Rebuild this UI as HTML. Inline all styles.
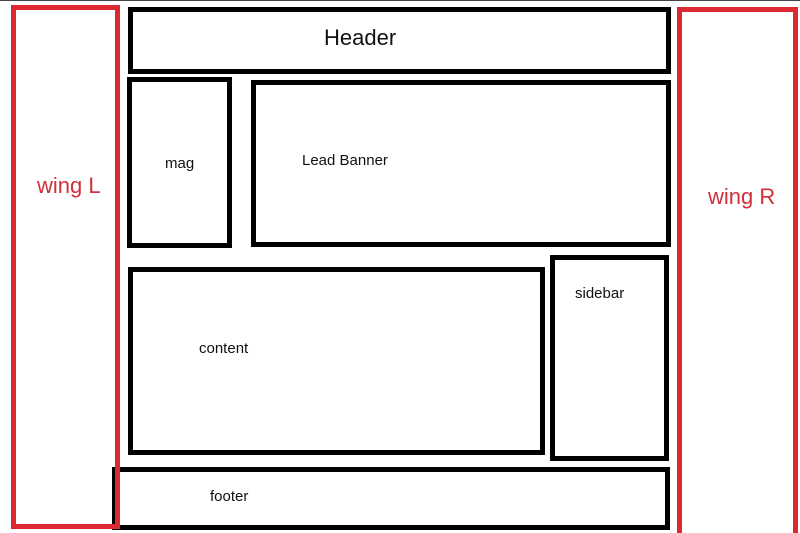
<!DOCTYPE html>
<html style="width:800px;height:533px;overflow:hidden"><head><style>
body{margin:0;width:800px;height:533px;background:#fff;position:relative;overflow:hidden;font-family:"Liberation Sans",sans-serif}
.b{position:absolute;box-sizing:border-box;border:5px solid #000}
.r{position:absolute;box-sizing:border-box;border:5px solid #dc2830}
.t{position:absolute;white-space:nowrap;color:#111;font-size:15px;line-height:15px}
.rt{position:absolute;white-space:nowrap;color:#d0303a;font-size:22px;line-height:22px}
</style></head><body>
<div style="position:absolute;left:0;top:0;width:800px;height:1px;background:#444"></div>
<div class="b" style="left:112px;top:467px;width:558px;height:63px"></div>
<div class="r" style="left:11px;top:5px;width:109px;height:524px"></div>
<div class="r" style="left:677px;top:7px;width:121px;height:526px;border-bottom:none"></div>
<div class="b" style="left:128px;top:7px;width:543px;height:67px"></div>
<div class="b" style="left:127px;top:77px;width:105px;height:171px"></div>
<div class="b" style="left:251px;top:80px;width:420px;height:167px"></div>
<div class="b" style="left:128px;top:267px;width:417px;height:188px"></div>
<div class="b" style="left:550px;top:255px;width:119px;height:206px"></div>
<div class="t" style="left:324px;top:27px;font-size:22px;line-height:22px">Header</div>
<div class="t" style="left:165px;top:156px">mag</div>
<div class="t" style="left:302px;top:153px">Lead Banner</div>
<div class="t" style="left:199px;top:341px">content</div>
<div class="t" style="left:575px;top:286px">sidebar</div>
<div class="t" style="left:210px;top:489px">footer</div>
<div class="rt" style="left:37px;top:175px">wing L</div>
<div class="rt" style="left:708px;top:186px">wing R</div>
</body></html>
